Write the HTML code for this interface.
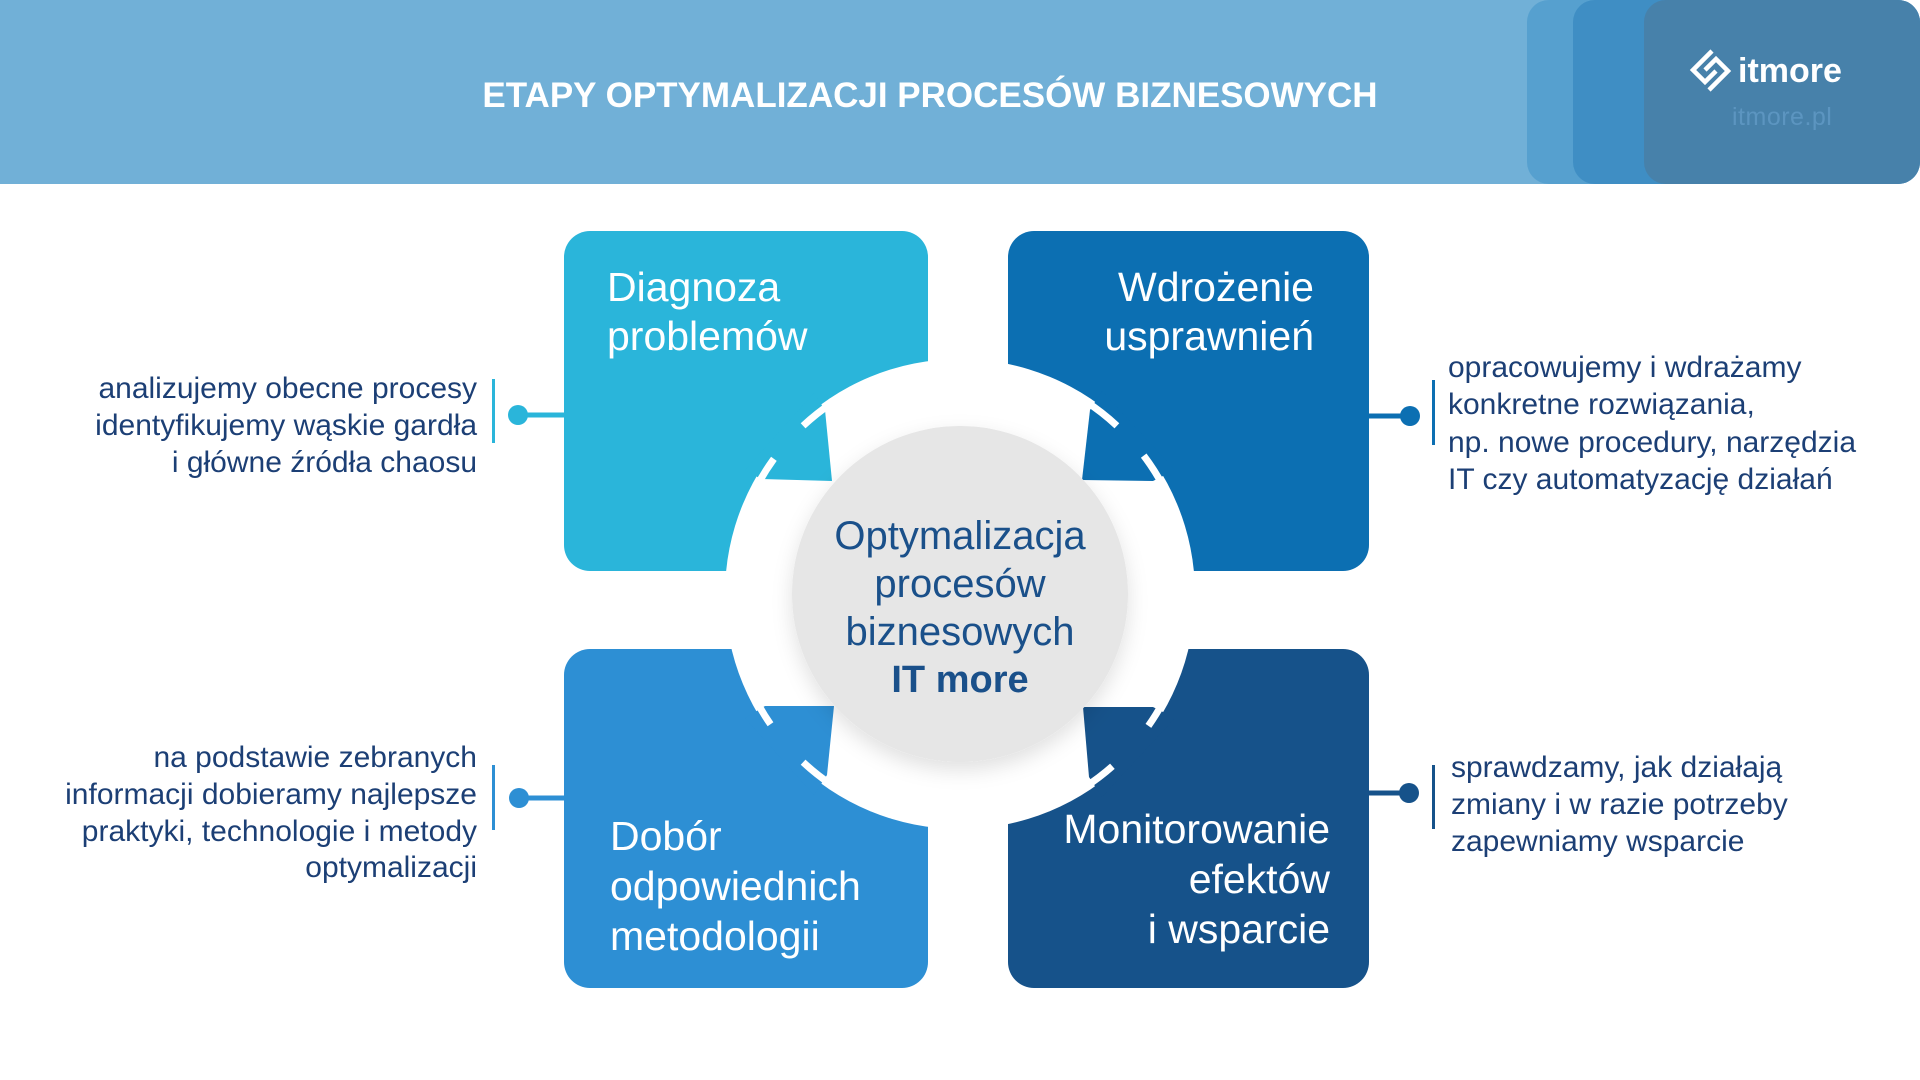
<!DOCTYPE html>
<html>
<head>
<meta charset="utf-8">
<style>
  html, body { margin: 0; padding: 0; background: #ffffff; }
  body { width: 1920px; height: 1080px; overflow: hidden; }
  svg { display: block; }
  text { font-family: "Liberation Sans", "DejaVu Sans", sans-serif; }
</style>
</head>
<body>
<svg width="1920" height="1080" viewBox="0 0 1920 1080" xmlns="http://www.w3.org/2000/svg">
  <defs>
    <filter id="sh" x="-30%" y="-30%" width="160%" height="170%">
      <feDropShadow dx="0" dy="8" stdDeviation="10" flood-color="#000000" flood-opacity="0.12"/>
    </filter>
  </defs>

  <!-- background -->
  <rect x="0" y="0" width="1920" height="1080" fill="#ffffff"/>

  <!-- header band -->
  <rect x="0" y="0" width="1700" height="184" fill="#71b0d7"/>
  <rect x="1527" y="0" width="393" height="184" rx="22" fill="#56a0cf"/>
  <rect x="1573" y="0" width="347" height="184" rx="22" fill="#3f8ec4"/>
  <rect x="1644" y="0" width="276" height="184" rx="22" fill="#4781aa"/>

  <!-- title -->
  <text x="930" y="107" font-size="35" font-weight="bold" fill="#ffffff" text-anchor="middle">ETAPY OPTYMALIZACJI PROCESÓW BIZNESOWYCH</text>

  <!-- logo -->
  <g fill="none" stroke="#ffffff" stroke-width="4.5" stroke-linejoin="miter">
    <polyline points="1712,51 1693,70 1705,82 1716,71"/>
    <polyline points="1709,90 1728,71 1716,59 1705,70"/>
  </g>
  <text x="1738" y="82" font-size="34" font-weight="bold" fill="#ffffff">itmore</text>
  <text x="1732" y="125" font-size="25" fill="#5c95c0" letter-spacing="0.5">itmore.pl</text>

  <!-- boxes -->
  <rect x="564" y="231" width="364" height="340" rx="26" fill="#2ab5da"/>
  <rect x="1008" y="231" width="361" height="340" rx="26" fill="#0c6fb2"/>
  <rect x="564" y="649" width="364" height="339" rx="26" fill="#2d8fd4"/>
  <rect x="1008" y="649" width="361" height="339" rx="26" fill="#16528a"/>

  <!-- white ring cut -->
  <circle cx="960" cy="594" r="235" fill="#ffffff"/>

  <!-- arrowheads -->
  <polygon points="832,481 825,410 814,393 745,470 761,479" fill="#2ab5da"/>
  <polygon points="1082,480 1090,410 1102,391 1175,470 1153,481" fill="#0c6fb2"/>
  <polygon points="834,706 765,706 745,718 814,795 827,775" fill="#2d8fd4"/>
  <polygon points="1083,707 1153,707 1175,718 1102,797 1089,777" fill="#16528a"/>

  <!-- white notches -->
  <g fill="none" stroke="#ffffff" stroke-width="7" stroke-linecap="butt">
    <path d="M831.4,403.3 A230,230 0 0 0 803.1,425.8"/>
    <path d="M756.9,486.0 A230,230 0 0 1 773.9,458.8"/>
    <path d="M1085.3,401.1 A230,230 0 0 1 1116.9,425.8"/>
    <path d="M1143.7,455.6 A230,230 0 0 1 1163.1,486.0"/>
    <path d="M756.9,702.0 A230,230 0 0 0 770.5,724.3"/>
    <path d="M803.1,762.2 A230,230 0 0 0 831.4,784.7"/>
    <path d="M1163.1,702.0 A230,230 0 0 1 1148.4,725.9"/>
    <path d="M1112.4,766.3 A230,230 0 0 1 1085.3,786.9"/>
  </g>

  <!-- center circle -->
  <circle cx="960" cy="594" r="168" fill="#e6e6e6" filter="url(#sh)"/>
  <g fill="#1a508a" text-anchor="middle">
    <text x="960" y="549" font-size="40">Optymalizacja</text>
    <text x="960" y="597" font-size="40">procesów</text>
    <text x="960" y="645" font-size="40">biznesowych</text>
    <text x="960" y="692" font-size="38" font-weight="bold">IT more</text>
  </g>

  <!-- box texts -->
  <g fill="#ffffff" font-size="41">
    <text x="607" y="301">Diagnoza</text>
    <text x="607" y="350">problemów</text>
    <text x="1314" y="301" text-anchor="end">Wdrożenie</text>
    <text x="1314" y="350" text-anchor="end">usprawnień</text>
    <text x="610" y="850">Dobór</text>
    <text x="610" y="900">odpowiednich</text>
    <text x="610" y="950">metodologii</text>
    <text x="1330" y="843" text-anchor="end">Monitorowanie</text>
    <text x="1330" y="893" text-anchor="end">efektów</text>
    <text x="1330" y="943" text-anchor="end">i wsparcie</text>
  </g>

  <!-- connectors -->
  <line x1="518" y1="415" x2="566" y2="415" stroke="#2ab5da" stroke-width="5"/>
  <circle cx="518" cy="415" r="10" fill="#2ab5da"/>
  <rect x="492" y="379" width="3" height="64" fill="#2ab5da"/>

  <line x1="519" y1="798" x2="566" y2="798" stroke="#2d8fd4" stroke-width="5"/>
  <circle cx="519" cy="798" r="10" fill="#2d8fd4"/>
  <rect x="492" y="765" width="3" height="65" fill="#2d8fd4"/>

  <line x1="1367" y1="416" x2="1410" y2="416" stroke="#0c6fb2" stroke-width="5"/>
  <circle cx="1410" cy="416" r="10" fill="#0c6fb2"/>
  <rect x="1432" y="380" width="3" height="65" fill="#0c6fb2"/>

  <line x1="1367" y1="793" x2="1409" y2="793" stroke="#16528a" stroke-width="5"/>
  <circle cx="1409" cy="793" r="10" fill="#16528a"/>
  <rect x="1432" y="765" width="3" height="64" fill="#16528a"/>

  <!-- side texts -->
  <g fill="#1c3f75" font-size="30">
    <g text-anchor="end">
      <text x="477" y="398">analizujemy obecne procesy</text>
      <text x="477" y="435">identyfikujemy wąskie gardła</text>
      <text x="477" y="472">i główne źródła chaosu</text>

      <text x="477" y="767">na podstawie zebranych</text>
      <text x="477" y="804">informacji dobieramy najlepsze</text>
      <text x="477" y="841">praktyki, technologie i metody</text>
      <text x="477" y="877">optymalizacji</text>
    </g>
    <text x="1448" y="377">opracowujemy i wdrażamy</text>
    <text x="1448" y="414">konkretne rozwiązania,</text>
    <text x="1448" y="452">np. nowe procedury, narzędzia</text>
    <text x="1448" y="489">IT czy automatyzację działań</text>

    <text x="1451" y="777">sprawdzamy, jak działają</text>
    <text x="1451" y="814">zmiany i w razie potrzeby</text>
    <text x="1451" y="851">zapewniamy wsparcie</text>
  </g>
</svg>
</body>
</html>
